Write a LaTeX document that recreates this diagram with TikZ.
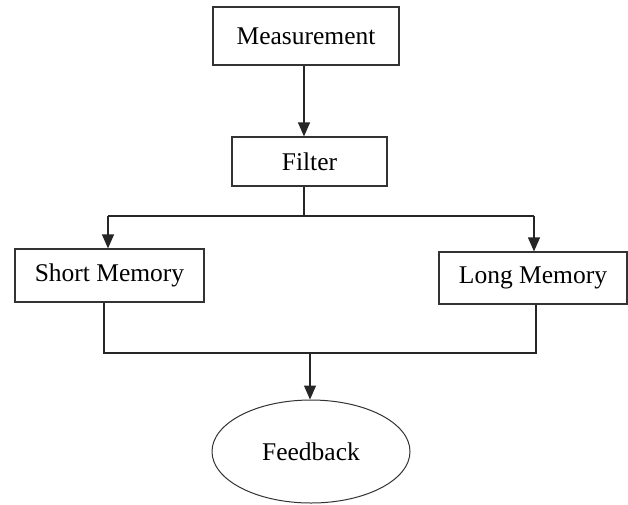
\documentclass[tikz,border=0pt]{standalone}
\usepackage{fontspec}
\setmainfont{Liberation Serif}
\usetikzlibrary{arrows.meta,shapes.geometric}
\begin{document}
\begin{tikzpicture}[x=1pt,y=-1pt,
  box/.style={draw=black!80,line width=1.2pt,rectangle,inner sep=0pt,font=\fontsize{25.5}{28}\selectfont},
  oval/.style={draw=black!80,line width=1pt,ellipse,inner sep=0pt,font=\fontsize{25.5}{28}\selectfont},
  conn/.style={draw=black!85,line width=1.2pt},
  arr/.style={conn,-{Triangle[width=12pt,length=14pt]}}]
\useasboundingbox[fill=white] (0,0) rectangle (628,504);
\node[box,minimum width=186pt,minimum height=58pt] (meas) at (306,36) {Measurement};
\node[box,minimum width=155pt,minimum height=49pt] (filter) at (309.5,161.5) {Filter};
\node[box,minimum width=189pt,minimum height=53pt] (short) at (109.5,275.5) {Short Memory};
\node[box,minimum width=188pt,minimum height=52pt] (long) at (533,278) {Long Memory};
\node[oval,minimum width=198pt,minimum height=103pt] (fb) at (311,451.5) {Feedback};
\coordinate (x1) at (304,216);
\coordinate (splitL) at (108,216);
\coordinate (splitR) at (534,216);
\coordinate (joinL) at (104,353);
\coordinate (joinR) at (536,353);
\coordinate (joinM) at (310,353);
\draw[arr] (meas.south -| x1) -- (filter.north -| x1);
\draw[conn] (filter.south -| x1) -- (x1);
\draw[conn] (splitL) -- (splitR);
\draw[arr] (splitL) -- (short.north -| splitL);
\draw[arr] (splitR) -- (long.north -| splitR);
\draw[conn] (short.south -| joinL) -- (joinL) -- (joinR) -- (long.south -| joinR);
\draw[arr] (joinM) -- (fb.north -| joinM);
\end{tikzpicture}
\end{document}
